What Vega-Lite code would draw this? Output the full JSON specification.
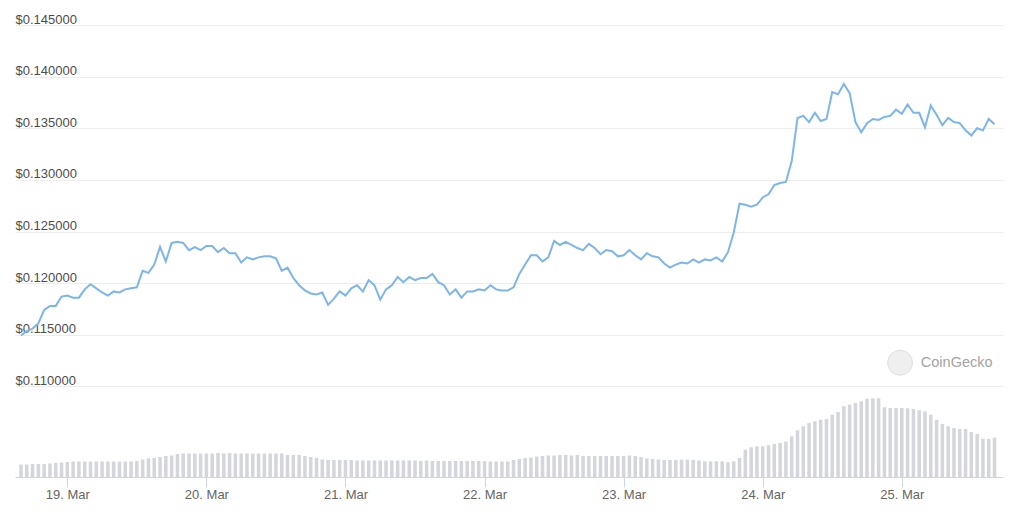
{
  "$schema": "https://vega.github.io/schema/vega-lite/v6.json",
  "width": 988,
  "height": 452,
  "autosize": {"type": "none"},
  "padding": {"left": 15, "top": 25, "right": 21, "bottom": 43},
  "background": "white",
  "config": {"view": {"stroke": null}, "font": "Liberation Sans"},
  "datasets": {
    "series": [
      {"t":"2025-03-18T16:00:00","price":0.11493,"volume":12.5},
      {"t":"2025-03-18T17:00:00","price":0.11535,"volume":12.5},
      {"t":"2025-03-18T18:00:00","price":0.1156,"volume":13},
      {"t":"2025-03-18T19:00:00","price":0.1161,"volume":13},
      {"t":"2025-03-18T20:00:00","price":0.1174,"volume":13},
      {"t":"2025-03-18T21:00:00","price":0.1178,"volume":13.5},
      {"t":"2025-03-18T22:00:00","price":0.1178,"volume":14},
      {"t":"2025-03-18T23:00:00","price":0.1187,"volume":14.5},
      {"t":"2025-03-19T00:00:00","price":0.1188,"volume":15},
      {"t":"2025-03-19T01:00:00","price":0.1186,"volume":15.5},
      {"t":"2025-03-19T02:00:00","price":0.1186,"volume":15.5},
      {"t":"2025-03-19T03:00:00","price":0.1194,"volume":15.5},
      {"t":"2025-03-19T04:00:00","price":0.1199,"volume":15.5},
      {"t":"2025-03-19T05:00:00","price":0.1195,"volume":15.5},
      {"t":"2025-03-19T06:00:00","price":0.1191,"volume":15.5},
      {"t":"2025-03-19T07:00:00","price":0.1188,"volume":15.5},
      {"t":"2025-03-19T08:00:00","price":0.1192,"volume":15.5},
      {"t":"2025-03-19T09:00:00","price":0.1191,"volume":15.5},
      {"t":"2025-03-19T10:00:00","price":0.1194,"volume":15.5},
      {"t":"2025-03-19T11:00:00","price":0.1195,"volume":15.5},
      {"t":"2025-03-19T12:00:00","price":0.1196,"volume":16},
      {"t":"2025-03-19T13:00:00","price":0.1212,"volume":17.5},
      {"t":"2025-03-19T14:00:00","price":0.1210,"volume":18.5},
      {"t":"2025-03-19T15:00:00","price":0.1218,"volume":19},
      {"t":"2025-03-19T16:00:00","price":0.1235,"volume":20},
      {"t":"2025-03-19T17:00:00","price":0.1221,"volume":21},
      {"t":"2025-03-19T18:00:00","price":0.1239,"volume":21.5},
      {"t":"2025-03-19T19:00:00","price":0.1240,"volume":23},
      {"t":"2025-03-19T20:00:00","price":0.1239,"volume":23.5},
      {"t":"2025-03-19T21:00:00","price":0.1232,"volume":23.5},
      {"t":"2025-03-19T22:00:00","price":0.1235,"volume":23.5},
      {"t":"2025-03-19T23:00:00","price":0.1232,"volume":23.5},
      {"t":"2025-03-20T00:00:00","price":0.1236,"volume":23.5},
      {"t":"2025-03-20T01:00:00","price":0.1236,"volume":23.5},
      {"t":"2025-03-20T02:00:00","price":0.1230,"volume":24},
      {"t":"2025-03-20T03:00:00","price":0.1234,"volume":23.5},
      {"t":"2025-03-20T04:00:00","price":0.1229,"volume":24},
      {"t":"2025-03-20T05:00:00","price":0.1229,"volume":23.5},
      {"t":"2025-03-20T06:00:00","price":0.1220,"volume":23.5},
      {"t":"2025-03-20T07:00:00","price":0.1225,"volume":23.5},
      {"t":"2025-03-20T08:00:00","price":0.1223,"volume":23.5},
      {"t":"2025-03-20T09:00:00","price":0.1225,"volume":23.5},
      {"t":"2025-03-20T10:00:00","price":0.1226,"volume":23.5},
      {"t":"2025-03-20T11:00:00","price":0.1226,"volume":23.5},
      {"t":"2025-03-20T12:00:00","price":0.1224,"volume":23.5},
      {"t":"2025-03-20T13:00:00","price":0.1212,"volume":23.5},
      {"t":"2025-03-20T14:00:00","price":0.1215,"volume":22},
      {"t":"2025-03-20T15:00:00","price":0.1205,"volume":22},
      {"t":"2025-03-20T16:00:00","price":0.1198,"volume":22},
      {"t":"2025-03-20T17:00:00","price":0.1193,"volume":21},
      {"t":"2025-03-20T18:00:00","price":0.1190,"volume":20},
      {"t":"2025-03-20T19:00:00","price":0.1189,"volume":19},
      {"t":"2025-03-20T20:00:00","price":0.1191,"volume":17.5},
      {"t":"2025-03-20T21:00:00","price":0.1179,"volume":17},
      {"t":"2025-03-20T22:00:00","price":0.1185,"volume":17},
      {"t":"2025-03-20T23:00:00","price":0.1192,"volume":17},
      {"t":"2025-03-21T00:00:00","price":0.1188,"volume":17},
      {"t":"2025-03-21T01:00:00","price":0.1195,"volume":17},
      {"t":"2025-03-21T02:00:00","price":0.1198,"volume":16.5},
      {"t":"2025-03-21T03:00:00","price":0.1192,"volume":16.5},
      {"t":"2025-03-21T04:00:00","price":0.1203,"volume":16.5},
      {"t":"2025-03-21T05:00:00","price":0.1198,"volume":16.5},
      {"t":"2025-03-21T06:00:00","price":0.1184,"volume":16.5},
      {"t":"2025-03-21T07:00:00","price":0.1194,"volume":16.5},
      {"t":"2025-03-21T08:00:00","price":0.1198,"volume":16.5},
      {"t":"2025-03-21T09:00:00","price":0.1206,"volume":16.5},
      {"t":"2025-03-21T10:00:00","price":0.1201,"volume":16.5},
      {"t":"2025-03-21T11:00:00","price":0.1206,"volume":16.5},
      {"t":"2025-03-21T12:00:00","price":0.1203,"volume":16.5},
      {"t":"2025-03-21T13:00:00","price":0.1205,"volume":16},
      {"t":"2025-03-21T14:00:00","price":0.1205,"volume":16.5},
      {"t":"2025-03-21T15:00:00","price":0.1209,"volume":16},
      {"t":"2025-03-21T16:00:00","price":0.1201,"volume":16},
      {"t":"2025-03-21T17:00:00","price":0.1198,"volume":16},
      {"t":"2025-03-21T18:00:00","price":0.1189,"volume":16},
      {"t":"2025-03-21T19:00:00","price":0.1194,"volume":16},
      {"t":"2025-03-21T20:00:00","price":0.1186,"volume":16},
      {"t":"2025-03-21T21:00:00","price":0.1192,"volume":16},
      {"t":"2025-03-21T22:00:00","price":0.1192,"volume":16},
      {"t":"2025-03-21T23:00:00","price":0.1194,"volume":16},
      {"t":"2025-03-22T00:00:00","price":0.1193,"volume":16},
      {"t":"2025-03-22T01:00:00","price":0.1198,"volume":15.5},
      {"t":"2025-03-22T02:00:00","price":0.1194,"volume":15.5},
      {"t":"2025-03-22T03:00:00","price":0.1193,"volume":15.5},
      {"t":"2025-03-22T04:00:00","price":0.1193,"volume":15.5},
      {"t":"2025-03-22T05:00:00","price":0.1196,"volume":17},
      {"t":"2025-03-22T06:00:00","price":0.1209,"volume":18},
      {"t":"2025-03-22T07:00:00","price":0.1218,"volume":19},
      {"t":"2025-03-22T08:00:00","price":0.1227,"volume":19.5},
      {"t":"2025-03-22T09:00:00","price":0.1227,"volume":20.5},
      {"t":"2025-03-22T10:00:00","price":0.1221,"volume":21},
      {"t":"2025-03-22T11:00:00","price":0.1225,"volume":21.5},
      {"t":"2025-03-22T12:00:00","price":0.1241,"volume":21.5},
      {"t":"2025-03-22T13:00:00","price":0.1237,"volume":22},
      {"t":"2025-03-22T14:00:00","price":0.1240,"volume":22},
      {"t":"2025-03-22T15:00:00","price":0.1237,"volume":21.5},
      {"t":"2025-03-22T16:00:00","price":0.1234,"volume":22},
      {"t":"2025-03-22T17:00:00","price":0.1232,"volume":21},
      {"t":"2025-03-22T18:00:00","price":0.1238,"volume":21},
      {"t":"2025-03-22T19:00:00","price":0.1234,"volume":21},
      {"t":"2025-03-22T20:00:00","price":0.1228,"volume":21},
      {"t":"2025-03-22T21:00:00","price":0.1232,"volume":21},
      {"t":"2025-03-22T22:00:00","price":0.1231,"volume":21},
      {"t":"2025-03-22T23:00:00","price":0.1226,"volume":21},
      {"t":"2025-03-23T00:00:00","price":0.1227,"volume":21},
      {"t":"2025-03-23T01:00:00","price":0.1232,"volume":21.5},
      {"t":"2025-03-23T02:00:00","price":0.1227,"volume":21},
      {"t":"2025-03-23T03:00:00","price":0.1223,"volume":20},
      {"t":"2025-03-23T04:00:00","price":0.1229,"volume":18.5},
      {"t":"2025-03-23T05:00:00","price":0.1226,"volume":18},
      {"t":"2025-03-23T06:00:00","price":0.1225,"volume":17.5},
      {"t":"2025-03-23T07:00:00","price":0.1219,"volume":17},
      {"t":"2025-03-23T08:00:00","price":0.1215,"volume":17},
      {"t":"2025-03-23T09:00:00","price":0.1218,"volume":17},
      {"t":"2025-03-23T10:00:00","price":0.1220,"volume":17.3},
      {"t":"2025-03-23T11:00:00","price":0.1219,"volume":17.3},
      {"t":"2025-03-23T12:00:00","price":0.1223,"volume":17},
      {"t":"2025-03-23T13:00:00","price":0.1220,"volume":16.5},
      {"t":"2025-03-23T14:00:00","price":0.1223,"volume":15.7},
      {"t":"2025-03-23T15:00:00","price":0.1222,"volume":15.7},
      {"t":"2025-03-23T16:00:00","price":0.1225,"volume":15.7},
      {"t":"2025-03-23T17:00:00","price":0.1221,"volume":15.7},
      {"t":"2025-03-23T18:00:00","price":0.1230,"volume":14.7},
      {"t":"2025-03-23T19:00:00","price":0.1249,"volume":15.7},
      {"t":"2025-03-23T20:00:00","price":0.1277,"volume":19},
      {"t":"2025-03-23T21:00:00","price":0.1276,"volume":27.3},
      {"t":"2025-03-23T22:00:00","price":0.1274,"volume":29.7},
      {"t":"2025-03-23T23:00:00","price":0.1276,"volume":30.7},
      {"t":"2025-03-24T00:00:00","price":0.1283,"volume":30.7},
      {"t":"2025-03-24T01:00:00","price":0.1286,"volume":31.7},
      {"t":"2025-03-24T02:00:00","price":0.1295,"volume":33},
      {"t":"2025-03-24T03:00:00","price":0.1297,"volume":34},
      {"t":"2025-03-24T04:00:00","price":0.1298,"volume":35.3},
      {"t":"2025-03-24T05:00:00","price":0.1318,"volume":40.7},
      {"t":"2025-03-24T06:00:00","price":0.1360,"volume":46.7},
      {"t":"2025-03-24T07:00:00","price":0.1362,"volume":50.7},
      {"t":"2025-03-24T08:00:00","price":0.1356,"volume":54},
      {"t":"2025-03-24T09:00:00","price":0.1365,"volume":55.7},
      {"t":"2025-03-24T10:00:00","price":0.1357,"volume":57.3},
      {"t":"2025-03-24T11:00:00","price":0.1359,"volume":58},
      {"t":"2025-03-24T12:00:00","price":0.1385,"volume":62.3},
      {"t":"2025-03-24T13:00:00","price":0.1383,"volume":65},
      {"t":"2025-03-24T14:00:00","price":0.1393,"volume":70.7},
      {"t":"2025-03-24T15:00:00","price":0.1384,"volume":72.3},
      {"t":"2025-03-24T16:00:00","price":0.1356,"volume":74},
      {"t":"2025-03-24T17:00:00","price":0.1346,"volume":75.7},
      {"t":"2025-03-24T18:00:00","price":0.1355,"volume":78.3},
      {"t":"2025-03-24T19:00:00","price":0.1359,"volume":78.7},
      {"t":"2025-03-24T20:00:00","price":0.1358,"volume":78.7},
      {"t":"2025-03-24T21:00:00","price":0.1361,"volume":69.7},
      {"t":"2025-03-24T22:00:00","price":0.1362,"volume":69},
      {"t":"2025-03-24T23:00:00","price":0.1368,"volume":69},
      {"t":"2025-03-25T00:00:00","price":0.1364,"volume":69},
      {"t":"2025-03-25T01:00:00","price":0.1373,"volume":68.7},
      {"t":"2025-03-25T02:00:00","price":0.1365,"volume":68},
      {"t":"2025-03-25T03:00:00","price":0.1365,"volume":66.7},
      {"t":"2025-03-25T04:00:00","price":0.1351,"volume":65.7},
      {"t":"2025-03-25T05:00:00","price":0.1372,"volume":62.3},
      {"t":"2025-03-25T06:00:00","price":0.1363,"volume":57.3},
      {"t":"2025-03-25T07:00:00","price":0.1353,"volume":53},
      {"t":"2025-03-25T08:00:00","price":0.1360,"volume":50.7},
      {"t":"2025-03-25T09:00:00","price":0.1356,"volume":49},
      {"t":"2025-03-25T10:00:00","price":0.1355,"volume":48},
      {"t":"2025-03-25T11:00:00","price":0.1348,"volume":48},
      {"t":"2025-03-25T12:00:00","price":0.1343,"volume":45},
      {"t":"2025-03-25T13:00:00","price":0.1350,"volume":43},
      {"t":"2025-03-25T14:00:00","price":0.1348,"volume":38.3},
      {"t":"2025-03-25T15:00:00","price":0.1359,"volume":38},
      {"t":"2025-03-25T16:00:00","price":0.1354,"volume":39.3}
    ],
    "brand": [
      {"t":"2025-03-25T03:17:00","price":0.11229,"label":"CoinGecko"}
    ],
    "logo": [
      {"t":"2025-03-24T23:42:00","price":0.11229}
    ]
  },
  "encoding": {
    "x": {
      "field": "t",
      "type": "temporal",
      "scale": {
        "domain": [
          {"year": 2025, "month": 3, "date": 18, "hours": 15, "minutes": 50},
          {"year": 2025, "month": 3, "date": 25, "hours": 16, "minutes": 36}
        ]
      },
      "axis": {
        "title": null,
        "values": [
          {"year": 2025, "month": 3, "date": 19},
          {"year": 2025, "month": 3, "date": 20},
          {"year": 2025, "month": 3, "date": 21},
          {"year": 2025, "month": 3, "date": 22},
          {"year": 2025, "month": 3, "date": 23},
          {"year": 2025, "month": 3, "date": 24},
          {"year": 2025, "month": 3, "date": 25}
        ],
        "format": "%-d. %b",
        "grid": false,
        "domainColor": "#ccd6eb",
        "tickColor": "#ccd6eb",
        "tickSize": 10,
        "labelPadding": 1,
        "labelFontSize": 13,
        "labelColor": "#666666",
        "labelFlush": false
      }
    }
  },
  "layer": [
    {
      "data": {"name": "series"},
      "mark": {"type": "bar", "color": "#d4d6dc", "width": 3.5},
      "encoding": {
        "y": {"field": "volume", "type": "quantitative", "scale": {"domain": [0, 452], "nice": false}, "axis": null}
      }
    },
    {
      "encoding": {
        "y": {
          "field": "price",
          "type": "quantitative",
          "scale": {"domain": [0.10123, 0.145], "nice": false, "zero": false},
          "axis": {
            "title": null,
            "orient": "left",
            "values": [0.11, 0.115, 0.12, 0.125, 0.13, 0.135, 0.14, 0.145],
            "format": "$.6f",
            "ticks": false,
            "domain": false,
            "grid": true,
            "gridColor": "#ededed",
            "labelAlign": "left",
            "labelBaseline": "alphabetic",
            "labelPadding": 0,
            "labelOffset": -2,
            "labelFontSize": 13,
            "labelColor": "#4d4d4d"
          }
        }
      },
      "layer": [
        {
          "data": {"name": "logo"},
          "mark": {"type": "circle", "size": 620, "color": "#efefef", "opacity": 1, "stroke": "#dedede", "strokeWidth": 1}
        },
        {
          "data": {"name": "brand"},
          "mark": {"type": "text", "align": "left", "baseline": "middle", "fontSize": 14.5, "color": "#a3a3a3"},
          "encoding": {"text": {"field": "label"}}
        },
        {
          "data": {"name": "series"},
          "mark": {"type": "line", "color": "#7cb5ec", "strokeWidth": 2},
          "encoding": {}
        }
      ]
    }
  ],
  "resolve": {"scale": {"y": "independent"}}
}
